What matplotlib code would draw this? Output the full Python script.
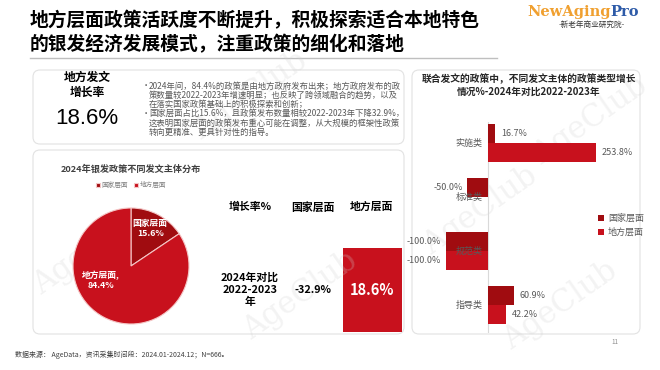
import numpy as np
import matplotlib.pyplot as plt
from matplotlib.patches import FancyBboxPatch, Rectangle

plt.rcParams['font.family'] = ['Noto Sans CJK SC', 'DejaVu Sans']

# 数据
pie_labels = ['国家层面', '地方层面']
pie_values = [15.6, 84.4]

bar_cats = ['实施类', '标准类', '规范类', '指导类']
bar_national = [16.7, -50.0, -100.0, 60.9]
bar_local = [253.8, np.nan, -100.0, 42.2]

growth_national = '-32.9%'
growth_local = '18.6%'

DARK = '#A00C10'
RED = '#C8111D'
GRAY = '#595959'

W, H = 660, 370
fig = plt.figure(figsize=(6.6, 3.7), dpi=100)

# 背景坐标系，按像素布局
bg = fig.add_axes([0, 0, 1, 1])
bg.set_xlim(0, W)
bg.set_ylim(H, 0)
bg.axis('off')


def px_rect(x0, y0, x1, y1):
    return [x0 / W, (H - y1) / H, (x1 - x0) / W, (y1 - y0) / H]


# 水印
for wx, wy in [(250, 95), (90, 250), (300, 295), (480, 210), (590, 120), (560, 305)]:
    bg.text(wx, wy, 'AgeClub', fontsize=22, family='DejaVu Serif', color='#d0d0d0',
            alpha=0.25, rotation=35, ha='center', va='center', zorder=2.5)

# 标题
bg.text(30, 21, '地方层面政策活跃度不断提升，积极探索适合本地特色', fontsize=13.5,
        fontweight='heavy', va='center', ha='left', color='black')
bg.text(30, 45, '的银发经济发展模式，注重政策的细化和落地', fontsize=13.5,
        fontweight='heavy', va='center', ha='left', color='black')
bg.plot([30, 497], [58, 58], color='#bfbfbf', lw=1)

# logo
t1 = bg.text(527, 12, 'NewAging', fontsize=10.5, family='DejaVu Serif', fontweight='bold',
             color='#F0A030', va='center', ha='left')
bg.annotate('Pro', xy=(1, 0.5), xycoords=t1, fontsize=10.5, family='DejaVu Serif',
            fontweight='bold', color='#2E5BA8', va='center', ha='left')
bg.text(592, 25, '-新老年商业研究院-', fontsize=5.5, color='#333333', va='center', ha='center')

# 卡片
for x0, y0, x1, y1 in [(33, 70, 404, 144), (33, 150, 404, 334), (412, 70, 640, 334)]:
    bg.add_patch(FancyBboxPatch((x0, y0), x1 - x0, y1 - y0,
                                boxstyle='round,pad=0,rounding_size=7',
                                fc='white', ec='#e2e2e2', lw=0.8, zorder=1))

# 顶部卡片
bg.text(87, 85, '地方发文\n增长率', fontsize=8.5, fontweight='bold', ha='center', va='center',
        linespacing=1.2, zorder=3)
bg.text(87, 118, growth_local, fontsize=16, family='Liberation Sans', ha='center', va='center',
        zorder=3)
bullet_lines = [
    ('•', '2024年间，84.4%的政策是由地方政府发布出来；地方政府发布的政'),
    ('', '策数量较2022-2023年增速明显；也反映了跨领域融合的趋势，以及'),
    ('', '在落实国家政策基础上的积极探索和创新；'),
    ('•', '国家层面占比15.6%，且政策发布数量相较2022-2023年下降32.9%，'),
    ('', '这表明国家层面的政策发布重心可能在调整，从大规模的框架性政策'),
    ('', '转向更精准、更具针对性的指导。'),
]
for i, (b, line) in enumerate(bullet_lines):
    y = 86 + i * 9.2
    if b:
        bg.text(142, y, b, fontsize=6, color=GRAY, ha='left', va='center', zorder=3)
    bg.text(149, y, line, fontsize=6, color=GRAY, ha='left', va='center', zorder=3)

# 饼图
bg.text(131, 169, '2024年银发政策不同发文主体分布', fontsize=6.6, fontweight='bold',
        color='#404040', ha='center', va='center', zorder=3)
pax = fig.add_axes(px_rect(73, 208, 189, 324))
wedges, _ = pax.pie(pie_values, colors=[DARK, RED], startangle=90, counterclock=False,
                    wedgeprops=dict(edgecolor='#f4c6c6', linewidth=0.8))
pax.set_xlim(-1, 1)
pax.set_ylim(-1, 1)
pax.text(0.33, 0.65, '国家层面\n15.6%', color='white', fontsize=6.3, fontweight='bold',
         ha='center', va='center', linespacing=1.15)
pax.text(-0.52, -0.25, '地方层面,\n84.4%', color='white', fontsize=6.3, fontweight='bold',
         ha='center', va='center', linespacing=1.15)
fig.legend(wedges, pie_labels, loc='center', bbox_to_anchor=(131 / W, 1 - 185 / H), ncol=2,
           frameon=False, fontsize=4.8, handlelength=0.6, handleheight=0.6, handletextpad=0.3,
           columnspacing=0.8, labelcolor='#7f7f7f')

# 表格
bg.text(250, 207, '增长率%', fontsize=7.8, fontweight='bold', ha='center', va='center', zorder=3)
bg.text(313, 207, '国家层面', fontsize=7.8, fontweight='bold', ha='center', va='center', zorder=3)
bg.text(372, 207, '地方层面', fontsize=7.8, fontweight='bold', ha='center', va='center', zorder=3)
bg.text(250, 290, '2024年对比\n2022-2023\n年', fontsize=7.8, fontweight='bold', ha='center',
        va='center', linespacing=1.25, zorder=3)
bg.text(313, 290, growth_national, fontsize=7.8, fontweight='bold', ha='center', va='center',
        zorder=3)
bg.add_patch(Rectangle((343, 248), 59, 84, fc=RED, ec='none', zorder=2))
bg.text(372, 290, growth_local, fontsize=10.5, fontweight='bold', color='white', ha='center',
        va='center', zorder=3)

# 右侧条形图
bg.text(529, 85, '联合发文的政策中，不同发文主体的政策类型增长\n情况%-2024年对比2022-2023年',
        fontsize=7, fontweight='bold', ha='center', va='center', multialignment='center',
        linespacing=1.3, color='#262626', zorder=3)

bax = fig.add_axes(px_rect(420, 122, 620, 333))
bax.patch.set_alpha(0)
y = np.arange(len(bar_cats))
h = 0.36
nat = np.array(bar_national)
loc = np.array(bar_local)
bax.barh(y - h / 2, nat, height=h, color=DARK, label='国家层面')
mask = ~np.isnan(loc)
bax.barh(y[mask] + h / 2, loc[mask], height=h, color=RED, label='地方层面')
bax.axvline(0, color='#d9d9d9', lw=0.8, zorder=0)
bax.set_xlim(-160, 310)
bax.set_ylim(3.52, -0.39)
bax.set_xticks([])
bax.set_yticks([])
for s in bax.spines.values():
    s.set_visible(False)

# 类别标签靠在0线左侧
for cat, yy in zip(bar_cats, y):
    bax.annotate(cat, (0, yy), xytext=(-4, 0), textcoords='offset points',
                 ha='right', va='center', fontsize=6.5, color=GRAY, zorder=5)


def add_labels(vals, ypos):
    for v, yy in zip(vals, ypos):
        if np.isnan(v):
            continue
        txt = f'{v:.1f}%'
        if v >= 0:
            bax.annotate(txt, (v, yy), xytext=(4, 0), textcoords='offset points',
                         ha='left', va='center', fontsize=6.5, color=GRAY)
        else:
            bax.annotate(txt, (v, yy), xytext=(-3, 0), textcoords='offset points',
                         ha='right', va='center', fontsize=6.5, color=GRAY)


add_labels(nat, y - h / 2)
add_labels(loc, y + h / 2)
bax.legend(loc='center left', bbox_to_anchor=(0.85, 0.51), frameon=False, fontsize=6.5,
           handlelength=0.7, handleheight=0.7, handletextpad=0.4, labelcolor=GRAY,
           labelspacing=0.5)

# 页码与数据来源
bg.text(615, 342, '11', fontsize=4.5, color='#8c8c8c', ha='center', va='center')
bg.text(15, 355, '数据来源： AgeData，资讯采集时间段：2024.01-2024.12；N=666。', fontsize=5,
        color='#404040', ha='left', va='center')

fig.savefig('out.png', dpi=100)
